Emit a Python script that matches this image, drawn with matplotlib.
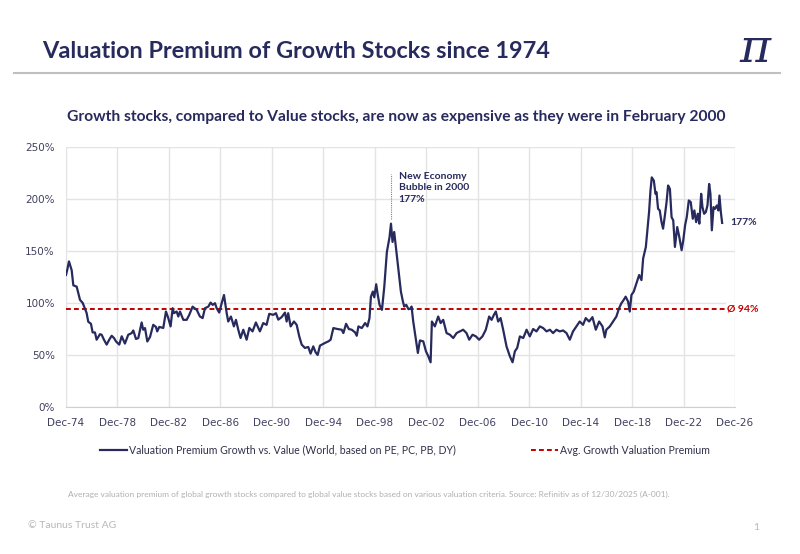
import matplotlib
matplotlib.use("Agg")
import matplotlib.pyplot as plt
from matplotlib.lines import Line2D

# years after Dec-74, valuation premium in %
t_years = [0.0, 0.1, 0.23, 0.44, 0.57, 0.83, 1.09, 1.3, 1.6, 1.73, 1.94, 2.07, 2.25, 2.38, 2.64,
           2.77, 2.95, 3.16, 3.36, 3.55, 3.73, 3.89, 4.14, 4.33, 4.58, 4.84, 5.1, 5.23, 5.44, 5.62,
           5.88, 6.0, 6.14, 6.32, 6.53, 6.78, 6.99, 7.09, 7.25, 7.56, 7.77, 7.95, 8.13, 8.29, 8.39,
           8.6, 8.73, 8.86, 9.12, 9.38, 9.58, 9.84, 10.16, 10.41, 10.62, 10.8, 11.06, 11.24, 11.4,
           11.58, 11.71, 11.91, 12.1, 12.28, 12.49, 12.61, 12.82, 13.05, 13.21, 13.39, 13.57, 13.78,
           14.04, 14.25, 14.5, 14.76, 15.07, 15.33, 15.59, 15.8, 16.11, 16.32, 16.5, 16.76, 17.02,
           17.15, 17.27, 17.46, 17.72, 17.93, 18.13, 18.32, 18.57, 18.83, 19.01, 19.22, 19.4, 19.56,
           19.74, 20.13, 20.39, 20.57, 20.78, 21.09, 21.43, 21.56, 21.77, 21.98, 22.21, 22.47, 22.6,
           22.73, 22.99, 23.25, 23.43, 23.59, 23.7, 23.85, 23.96, 24.11, 24.22, 24.37, 24.56, 24.74,
           24.94, 25.15, 25.26, 25.38, 25.51, 25.67, 25.85, 26.03, 26.19, 26.29, 26.45, 26.62, 26.81,
           26.86, 26.99, 27.2, 27.35, 27.51, 27.77, 27.98, 28.16, 28.34, 28.44, 28.67, 28.93, 29.12,
           29.32, 29.58, 29.84, 30.1, 30.36, 30.61, 30.87, 31.13, 31.34, 31.6, 31.86, 32.11, 32.37,
           32.63, 32.89, 33.08, 33.26, 33.41, 33.59, 33.78, 33.98, 34.24, 34.5, 34.71, 34.89, 35.07,
           35.28, 35.54, 35.8, 36.05, 36.31, 36.57, 36.83, 37.09, 37.35, 37.61, 37.86, 38.12, 38.38,
           38.64, 38.9, 39.16, 39.41, 39.67, 39.93, 40.19, 40.4, 40.66, 40.92, 41.18, 41.44, 41.7,
           41.88, 42.0, 42.27, 42.52, 42.78, 42.99, 43.17, 43.35, 43.5, 43.69, 43.82, 43.95, 44.13,
           44.34, 44.55, 44.73, 44.86, 45.07, 45.2, 45.32, 45.43, 45.53, 45.69, 45.82, 45.9, 46.02,
           46.15, 46.29, 46.41, 46.55, 46.68, 46.8, 46.94, 47.07, 47.2, 47.33, 47.51, 47.67, 47.85,
           47.98, 48.12, 48.25, 48.41, 48.56, 48.72, 48.84, 48.98, 49.11, 49.23, 49.37, 49.47, 49.6,
           49.73, 49.86, 49.99, 50.09, 50.2, 50.33, 50.45, 50.59, 50.71, 50.79, 50.9, 51.0]
premium = [127, 132, 140, 131.6, 117, 115.7, 103, 100, 90.5, 82, 80, 71.7, 71.7, 64.7, 70,
           69.5, 64.7, 60, 64.7, 68.5, 66.3, 63, 60, 68, 61, 69.5, 71, 73.6, 65.4, 66.3,
           81.3, 74.3, 75.9, 63, 67.3, 79, 77, 72.7, 77, 76, 91.8, 85.5, 77.5, 95, 90.2,
           91.8, 87, 91.8, 83.8, 83.8, 88.6, 96.5, 93.4, 87, 85.5, 95, 96.5, 100.4, 98.2,
           99.8, 95, 90.8, 99.8, 107.7, 90.2, 82.2, 87, 77.5, 83.8, 74.3, 66.3, 74.3,
           64.7, 76, 72.7, 81.3, 72.7, 80.7, 79, 89.6, 88.6, 90.2, 84, 86.4, 90.8,
           82.2, 90.2, 77.5, 82.2, 79, 67.9, 60, 56.8, 57.7, 51.3, 58.3, 52.6, 50,
           59, 61.6, 63.1, 64.7, 75.9, 75, 74.3, 71.1, 80, 75, 74.3, 71.7, 68.5,
           77.5, 75.9, 80.7, 77.5, 85.5, 106, 111, 105.5, 118, 108.7, 98.2, 93.4, 115.7,
           149, 163.5, 176.3, 158.7, 168.3, 150.8, 131.6, 111, 101.3, 96.6, 98.2, 94, 95,
           96.6, 82.2, 64.7, 52, 64, 63.1, 53.5, 48.8, 43, 82.2, 77.5, 87, 80.7,
           83.8, 71.1, 69.5, 66.3, 71.1, 72.7, 74.3, 71.1, 64.7, 69.5, 67.9, 64.7, 67.9,
           74.3, 87, 83.8, 88.6, 91.8, 82.2, 85.5, 74.3, 58.3, 48.8, 43, 53.5, 56.8,
           67.9, 66.3, 74.3, 67.9, 75, 72.7, 77.5, 75.9, 72.7, 74.3, 71.1, 74.3, 72.7,
           73.6, 71.1, 64.7, 72.7, 77.5, 82.2, 79, 85.5, 82.2, 86.4, 74.3, 82.2, 77.5,
           67, 74.3, 77.5, 82.2, 87, 95, 99.8, 103, 106.1, 101.3, 91.8, 107.7, 111,
           118.9, 126.9, 122, 142.8, 153.9, 171.5, 187.4, 208, 220.8, 217.7, 205, 206.5, 190.6,
           189, 177.8, 171.5, 184.2, 197, 213, 209.7, 182.6, 179.4, 153.9, 173, 163.5, 150.8,
           160.3, 174.7, 182.6, 198.6, 197, 181, 189, 177.8, 185.8, 176.3, 205, 192.2, 185.8,
           187.4, 193.8, 214.5, 205, 169.9, 192.2, 190.6, 193.8, 189, 203.3, 187.4, 177]
avg_premium = 94
bubble_t = 25.26
bubble_value = 177
last_value = 177

x_ticks = list(range(0, 53, 4))
x_labels = ["Dec-74", "Dec-78", "Dec-82", "Dec-86", "Dec-90", "Dec-94", "Dec-98",
            "Dec-02", "Dec-06", "Dec-10", "Dec-14", "Dec-18", "Dec-22", "Dec-26"]
y_ticks = [0, 50, 100, 150, 200, 250]

navy = "#272a5c"
red = "#c00000"
W, H = 800, 554

fig = plt.figure(figsize=(8, 5.54), dpi=100)
fig.patch.set_facecolor("white")

# header
fig.text(42 / W, 1 - 51 / H, "Valuation Premium of Growth Stocks since 1974",
         fontsize=16.9, fontweight="bold", color=navy, family="Lato", va="center", ha="left")
fig.text(755 / W, 1 - 49 / H, "π", fontsize=34, style="italic",
         color=navy, family="DejaVu Serif", va="center", ha="center")
fig.add_artist(Line2D([14 / W, 780 / W], [1 - 73 / H, 1 - 73 / H], color="#bfbfbf", lw=1.5))
fig.text(396 / W, 1 - 117 / H,
         "Growth stocks, compared to Value stocks, are now as expensive as they were in February 2000",
         fontsize=11.25, fontweight="bold", color=navy, family="Lato", va="center", ha="center")

ax = fig.add_axes([66 / W, 1 - 407 / H, 669 / W, 260 / H])
ax.plot(t_years, premium, color=navy, lw=1.6, zorder=3,
        label="Valuation Premium Growth vs. Value (World, based on PE, PC, PB, DY)")
ax.axhline(avg_premium, color=red, lw=1.4, ls=(0, (2.5, 1.6)), zorder=2,
           label="Avg. Growth Valuation Premium")

ax.set_xlim(0, 52)
ax.set_ylim(0, 250)
ax.set_xticks(x_ticks)
ax.set_xticklabels(x_labels)
ax.set_yticks(y_ticks)
ax.set_yticklabels([f"{v}%" for v in y_ticks])
ax.grid(True, color="#e3e3e3", lw=1)
ax.set_axisbelow(True)
for s in ax.spines.values():
    s.set_visible(False)
ax.spines["bottom"].set_visible(True)
ax.spines["bottom"].set_color("#d0d0d0")
ax.tick_params(length=0, labelsize=7.5, labelcolor="#404060", pad=8)

# annotations
ax.plot([bubble_t, bubble_t], [181, 224], color="#808080", lw=0.8, ls=(0, (1, 1)))
ax.text(bubble_t + 0.6, 226, "New Economy\nBubble in 2000\n" + f"{bubble_value}%",
        fontsize=7.5, fontweight="bold", color=navy, family="Lato", va="top", ha="left",
        linespacing=1.35)
ax.text(51.6, last_value, f"{last_value}%", fontsize=7.5, fontweight="bold", color=navy,
        family="Lato", va="center", ha="left", clip_on=False)
ax.text(51.4, avg_premium, f"Ø {avg_premium}%", fontsize=7.5, fontweight="bold", color=red,
        family="Lato", va="center", ha="left", clip_on=False,
        bbox=dict(facecolor="white", edgecolor="none", pad=1))

# legend, two separate pieces
h1, l1 = ax.get_legend_handles_labels()
leg1 = fig.legend([h1[0]], [l1[0]], loc="center left", bbox_to_anchor=(95 / W, 1 - 450 / H),
                  frameon=False, handlelength=2.5, handletextpad=0.2,
                  borderpad=0, prop={"family": "Lato", "size": 7.6})
leg2 = fig.legend([h1[1]], [l1[1]], loc="center left", bbox_to_anchor=(526 / W, 1 - 450 / H),
                  frameon=False, handlelength=2.5, handletextpad=0.2, borderpad=0,
                  prop={"family": "Lato", "size": 7.6})
for leg in (leg1, leg2):
    for txt in leg.get_texts():
        txt.set_color("#30304a")

# footer
fig.text(68 / W, 1 - 494 / H,
         "Average valuation premium of global growth stocks compared to global value stocks based on "
         "various valuation criteria. Source: Refinitiv as of 12/30/2025 (A-001).",
         fontsize=6.0, color="#b0b0b0", family="Lato", va="center", ha="left")
fig.text(28 / W, 1 - 526 / H, "© Taunus Trust AG", fontsize=7.5, color="#b8b8b8",
         family="Lato", va="center", ha="left")
fig.text(756 / W, 1 - 527 / H, "1", fontsize=7.5, color="#b8b8b8", family="Lato",
         va="center", ha="center")

fig.savefig("out.png", dpi=100, facecolor="white")
